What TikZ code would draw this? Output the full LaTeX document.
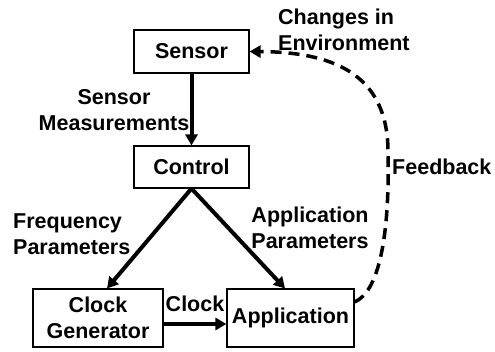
\documentclass[tikz,border=0pt]{standalone}
\usepackage{fontspec}
\setmainfont{Liberation Sans}
\usetikzlibrary{arrows.meta}
\begin{document}
\begin{tikzpicture}[x=1bp,y=-1bp,
  every node/.style={font=\fontsize{21.5bp}{26bp}\selectfont\bfseries, inner sep=0pt},
  blockbox/.style={draw, line width=1.1bp, align=center},
  flowarrow/.style={line width=4bp, -{Triangle[length=11bp,width=12bp]}},
  fbarrow/.style={line width=3.5bp, dash pattern=on 11bp off 7bp, -{Triangle[length=11bp,width=12bp]}},
  lbl/.style={align=center}
]
\useasboundingbox (0,0) rectangle (495,351);
\node[blockbox, minimum width=115bp, minimum height=43bp] (sensor) at (191.5,51.5) {Sensor};
\node[blockbox, minimum width=115bp, minimum height=42bp] (control) at (191.5,167) {Control};
\node[blockbox, minimum width=130bp, minimum height=58bp] (clk) at (98,318) {Clock\\Generator};
\node[blockbox, minimum width=127bp, minimum height=58bp] (app) at (290.5,318) {Application};

\draw[flowarrow] (sensor.south) -- (control.north);
\draw[flowarrow] (control.south) -- ([xshift=9bp]clk.north);
\draw[flowarrow] (control.south) -- ([xshift=-5.5bp]app.north);
\draw[flowarrow] ([yshift=-6bp]clk.east) -- ([yshift=-6bp]app.west);
\draw[fbarrow] ([yshift=16bp]app.east) .. controls (378,292) and (390,240) .. (388,150)
   .. controls (387,72) and (330,52) .. (sensor.east);

\node[lbl] (lsm) at (114,110) {Sensor\\Measurements};
\node[lbl, align=left, anchor=west] (lce) at (278,30) {Changes in\\Environment};
\node[lbl, anchor=west] (lfb) at (392,167) {Feedback};
\node[lbl, align=left, anchor=west] (lfp) at (13,234.5) {Frequency\\Parameters};
\node[lbl] (lap) at (310,228) {Application\\Parameters};
\node[lbl] (lck) at (195,304) {Clock};
\end{tikzpicture}
\end{document}
